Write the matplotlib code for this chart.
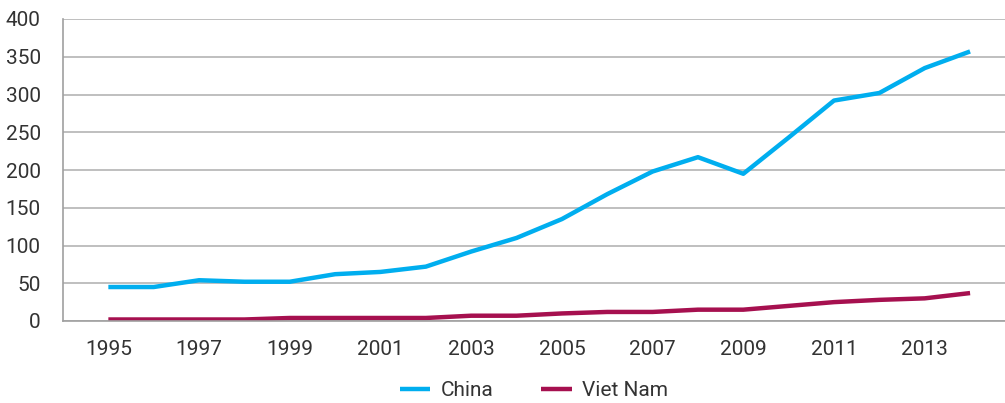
import matplotlib
matplotlib.use("Agg")
import matplotlib.pyplot as plt

# data
years = list(range(1995, 2015))
china = [45, 45, 54, 52, 52, 62, 65, 72, 92, 110,
         135, 168, 198, 217, 195, 243, 292, 302, 335, 357]
viet_nam = [2, 2, 2, 2, 4, 4, 4, 4, 7, 7,
            10, 12, 12, 15, 15, 20, 25, 28, 30, 37]
y_ticks = list(range(0, 401, 50))
x_ticks = list(range(1995, 2014, 2))

plt.rcParams['font.family'] = ['Roboto', 'DejaVu Sans']
text_color = '#333333'

fig = plt.figure(figsize=(10.05, 4.03), dpi=100)
ax = fig.add_axes([63 / 1005, 1 - 321 / 403, 1 - 63 / 1005, (321 - 19) / 403])

ax.plot(years, china, color='#00AEEF', lw=3.2, label='China', solid_capstyle='butt')
ax.plot(years, viet_nam, color='#A6104F', lw=3.2, label='Viet Nam', solid_capstyle='butt')

ax.set_ylim(0, 400)
ax.set_xlim(1994.0, 2014.77)
ax.set_yticks(y_ticks)
ax.set_xticks(x_ticks)
ax.yaxis.grid(True, color='#b4b4b4', lw=1.2)
ax.set_axisbelow(True)

for side in ['top', 'right']:
    ax.spines[side].set_visible(False)
for side in ['left', 'bottom']:
    ax.spines[side].set_color('#a0a0a0')
    ax.spines[side].set_linewidth(1.2)

ax.tick_params(axis='both', length=0, labelsize=15, colors=text_color)
ax.tick_params(axis='x', pad=14)
ax.tick_params(axis='y', pad=16)

leg = fig.legend(loc='center', bbox_to_anchor=(534 / 1005, 1 - 391 / 403), ncol=2,
                 frameon=False, fontsize=15, handlelength=1.45,
                 columnspacing=2.3, handletextpad=0.5)
for t in leg.get_texts():
    t.set_color(text_color)

fig.savefig('out.png', dpi=100)
